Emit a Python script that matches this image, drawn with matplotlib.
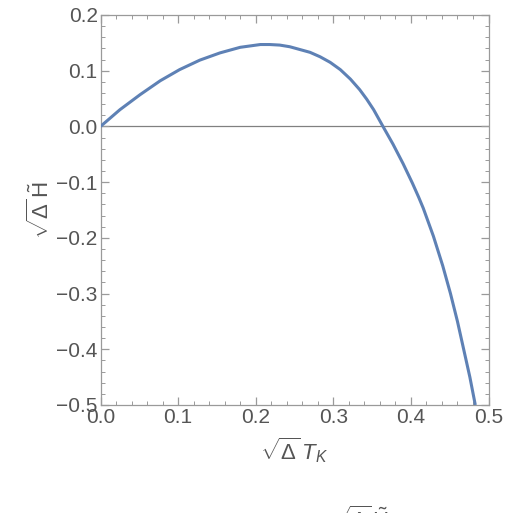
import matplotlib
matplotlib.use("Agg")
import matplotlib.pyplot as plt
from matplotlib.ticker import MultipleLocator

# values
x_vals = [0.0, 0.025, 0.051, 0.077, 0.102, 0.128, 0.154, 0.180, 0.206, 0.218,
          0.231, 0.244, 0.257, 0.270, 0.283, 0.296, 0.309, 0.322, 0.334, 0.343,
          0.352, 0.364, 0.377, 0.390, 0.402, 0.410, 0.416, 0.429, 0.441, 0.451,
          0.460, 0.468, 0.476, 0.483]
y_vals = [0.0, 0.030, 0.057, 0.082, 0.102, 0.119, 0.132, 0.142, 0.147, 0.147,
          0.146, 0.143, 0.138, 0.133, 0.125, 0.115, 0.102, 0.085, 0.066, 0.049,
          0.030, 0.0, -0.032, -0.067, -0.102, -0.127, -0.147, -0.197, -0.250, -0.300,
          -0.350, -0.400, -0.450, -0.500]
x_ticks = [0.0, 0.1, 0.2, 0.3, 0.4, 0.5]
y_ticks = [-0.5, -0.4, -0.3, -0.2, -0.1, 0.0, 0.1, 0.2]

plt.rcParams['font.family'] = ['Liberation Sans', 'DejaVu Sans']
plt.rcParams['mathtext.fontset'] = 'custom'
plt.rcParams['mathtext.rm'] = 'Liberation Sans'
plt.rcParams['mathtext.it'] = 'Liberation Sans:italic'

frame_col = '#9a9a9a'
text_col = '#555555'

fig = plt.figure(figsize=(5.14, 5.13), dpi=100)
ax = fig.add_axes([100.5 / 514, 108 / 513, 388 / 514, 390 / 513])

ax.axhline(0, color='#808080', lw=0.9, zorder=1)
ax.plot(x_vals, y_vals, color='#5E81B5', lw=2.2, zorder=3,
        solid_joinstyle='round', solid_capstyle='butt')

ax.set_xlim(0, 0.5)
ax.set_ylim(-0.5, 0.2)
ax.set_xticks(x_ticks)
ax.set_yticks(y_ticks)
ax.set_xticklabels([f"{t:.1f}" for t in x_ticks])
ax.set_yticklabels([f"{t:.1f}".replace('-', '\u2212') for t in y_ticks])
ax.xaxis.set_minor_locator(MultipleLocator(0.02))
ax.yaxis.set_minor_locator(MultipleLocator(0.02))

for s in ax.spines.values():
    s.set_color(frame_col)
    s.set_linewidth(0.9)

ax.tick_params(which='both', direction='in', top=True, right=True,
               color=frame_col, labelcolor=text_col, labelsize=15)
ax.tick_params(which='major', length=6, width=0.9, pad=2)
ax.tick_params(which='minor', length=3, width=0.7)

ax.set_xlabel(r'$\sqrt{\Delta}\,T_K$', fontsize=16, color=text_col, labelpad=6)
ax.set_ylabel(r'$\sqrt{\Delta}\,\tilde{\mathrm{H}}$', fontsize=16, color=text_col, labelpad=2)

# clipped caption at the very bottom of the image
fig.text(0.70, 0.012, r'$\sqrt{\Delta}\,\tilde{\mathrm{H}}$', fontsize=16,
         color=text_col, ha='center', va='top')

fig.savefig('out.png', dpi=100)
